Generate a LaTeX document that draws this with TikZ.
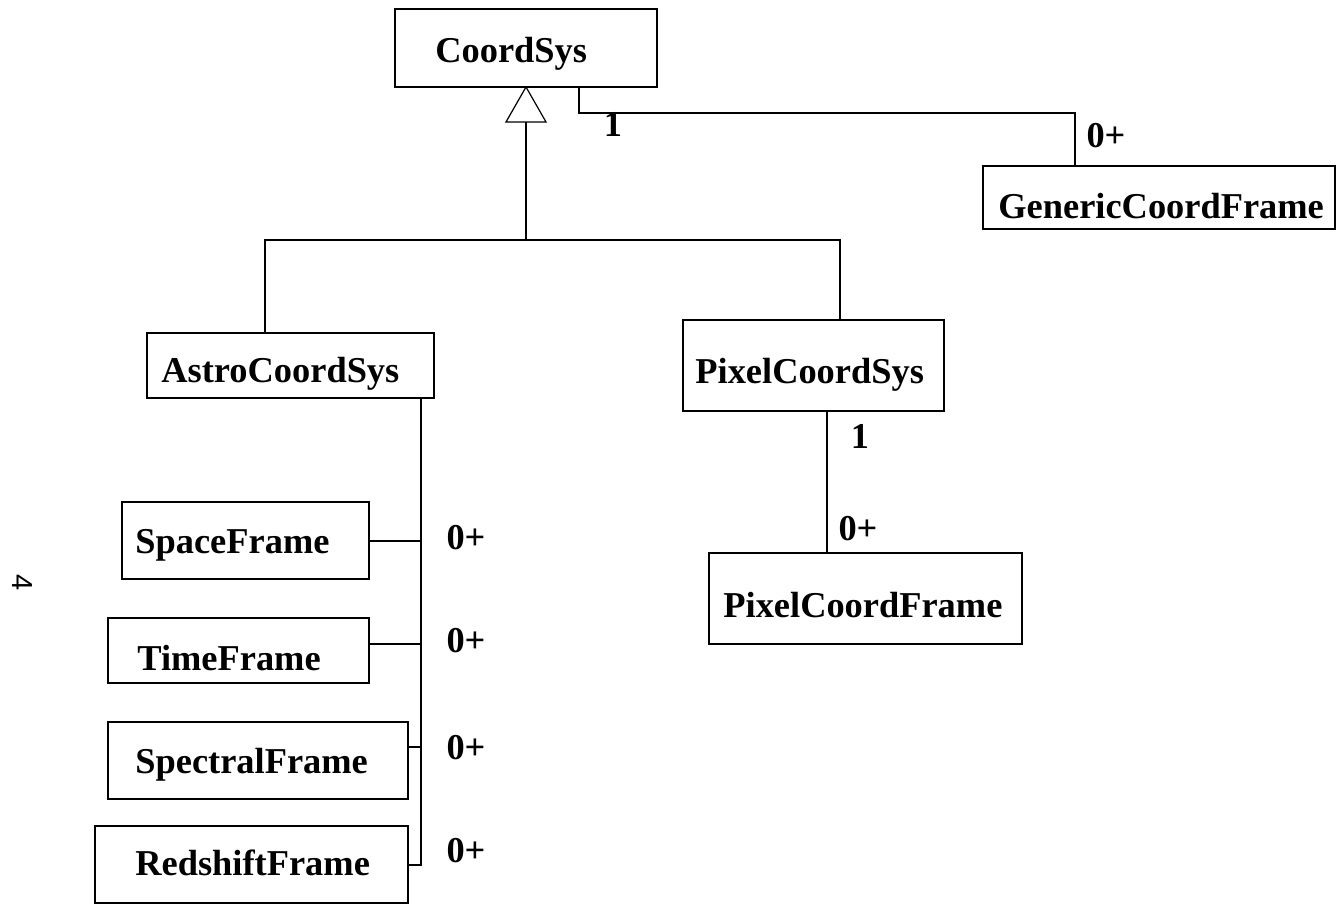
\documentclass[tikz,border=0pt]{standalone}
\usepackage{fontspec}
\setmainfont{Liberation Serif}
\setsansfont{Liberation Sans}
\usetikzlibrary{calc,fit}
\begin{document}
\begin{tikzpicture}[x=0.5pt,y=-0.5pt,
  box/.style={draw, line width=0.6pt, rectangle, inner sep=0pt, outer sep=0pt},
  clsname/.style={font=\fontsize{18.2pt}{22pt}\selectfont\bfseries, inner sep=0pt, anchor=base west},
  mult/.style={font=\fontsize{18.2pt}{22pt}\selectfont\bfseries, inner sep=0pt, anchor=base},
  wire/.style={line width=0.6pt}]
\useasboundingbox (0,0) rectangle (1342,908);

% classes
\node[box, fit={(395,9) (657,87)}] (coord) {};
\node[clsname] (coord-t) at (435,63) {CoordSys};

\node[box, fit={(983,166) (1335,229)}] (gen) {};
\node[clsname] (gen-t) at (998,219) {GenericCoordFrame};

\node[box, fit={(147,333) (434,398)}] (astro) {};
\node[clsname] (astro-t) at (161,383) {AstroCoordSys};

\node[box, fit={(683,320) (944,411)}] (pcs) {};
\node[clsname] (pcs-t) at (695,384) {PixelCoordSys};

\node[box, fit={(709,553) (1022,644)}] (pcf) {};
\node[clsname] (pcf-t) at (723,617) {PixelCoordFrame};

\node[box, fit={(122,502) (369,579)}] (space) {};
\node[clsname] (space-t) at (135,553) {SpaceFrame};

\node[box, fit={(108,618) (369,683)}] (time) {};
\node[clsname] (time-t) at (137,670) {TimeFrame};

\node[box, fit={(108,722) (408,799)}] (spec) {};
\node[clsname] (spec-t) at (135,773) {SpectralFrame};

\node[box, fit={(95,826) (408,903)}] (red) {};
\node[clsname] (red-t) at (135,875) {RedshiftFrame};

% generalization: triangle under CoordSys and the tree below it
\coordinate (apex) at ($(coord.south west)+(131,0)$);
\draw[wire, fill=white] (apex) -- ++(20,35) -- ++(-40,0) -- cycle;
\coordinate (tri) at ($(apex)+(0,35)$);
\coordinate (hub) at ($(apex)+(0,153)$);
\draw[wire] (tri) -- (hub);
\draw[wire] (hub) -| ($(astro.north west)+(118,0)$);
\draw[wire] (hub) -| ($(pcs.north west)+(157,0)$);

% association CoordSys -- GenericCoordFrame
\draw[wire] ($(coord.south west)+(184,0)$) -- ++(0,26) -| ($(gen.north west)+(92,0)$);
\node[mult] (m-coord) at (613,137) {1};
\node[mult] (m-gen) at (1106,148) {0+};

% association PixelCoordSys -- PixelCoordFrame
\coordinate (pa) at ($(pcs.south west)+(144,0)$);
\draw[wire] (pa) -- (pa |- pcf.north);
\node[mult] (m-pcs) at (860,449) {1};
\node[mult] (m-pcf) at (858,540) {0+};

% AstroCoordSys and its frames
\coordinate (spine) at ($(astro.south east)+(-13,0)$);
\coordinate (c-space) at ($(space.north east)+(0,39)$);
\coordinate (c-time) at ($(time.north east)+(0,26)$);
\coordinate (c-spec) at ($(spec.north east)+(0,25)$);
\coordinate (c-red) at ($(red.north east)+(0,39)$);
\draw[wire] (spine) -- (spine |- c-red) -- (c-red);
\draw[wire] (c-space) -- (c-space -| spine);
\draw[wire] (c-time) -- (c-time -| spine);
\draw[wire] (c-spec) -- (c-spec -| spine);
\node[mult] (m-space) at (466,549) {0+};
\node[mult] (m-time) at (466,652) {0+};
\node[mult] (m-spec) at (466,759) {0+};
\node[mult] (m-red) at (466,862) {0+};

% page number
\node[font=\sffamily\fontsize{14.5pt}{17pt}\selectfont, rotate=-90, inner sep=0pt] (page) at (22,583) {4};
\end{tikzpicture}
\end{document}
